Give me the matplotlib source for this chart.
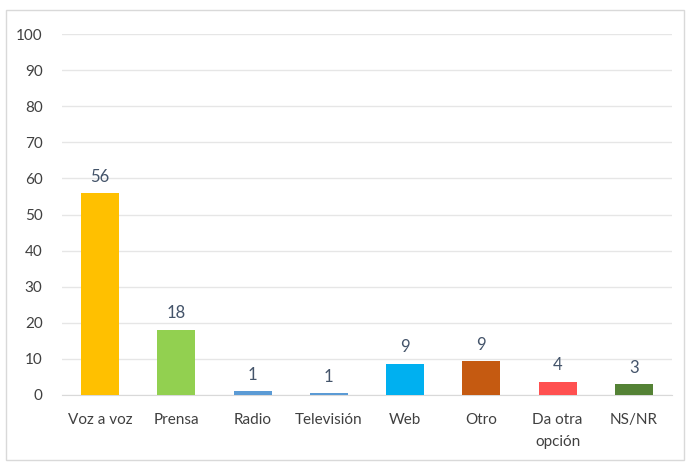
import matplotlib
matplotlib.use("Agg")
import matplotlib.pyplot as plt
from matplotlib.patches import Rectangle

categories = ["Voz a voz", "Prensa", "Radio", "Televisión", "Web", "Otro", "Da otra\nopción", "NS/NR"]
values = [56, 18.1, 1.1, 0.6, 8.7, 9.3, 3.7, 3.0]
labels = ["56", "18", "1", "1", "9", "9", "4", "3"]
colors = ["#FFC000", "#92D050", "#5B9BD5", "#5B9BD5", "#00B0F0", "#C55A11", "#FF5050", "#548235"]
yticks = list(range(0, 101, 10))

plt.rcParams['font.family'] = ['Lato', 'DejaVu Sans']

fig = plt.figure(figsize=(6.9, 4.62), dpi=100)
ax = fig.add_axes([62/690, 1-395/462, 610/690, 361/462])

x = range(len(categories))
bars = ax.bar(x, values, width=0.5, color=colors, zorder=3)
for b, lab in zip(bars, labels):
    ax.annotate(lab, (b.get_x()+b.get_width()/2, b.get_height()), xytext=(0, 6),
                textcoords="offset points", ha="center", va="bottom",
                fontsize=12, color="#44546A")

ax.set_ylim(0, 100)
ax.set_xlim(-0.5, len(categories)-0.5)
ax.set_yticks(yticks)
ax.set_xticks(list(x))
ax.set_xticklabels(categories, fontsize=11, color="#404040", linespacing=1.75)
ax.tick_params(axis='y', labelsize=11, labelcolor="#404040", length=0, pad=14)
ax.tick_params(axis='x', length=0, pad=13)
ax.yaxis.grid(True, color="#E6E6E6", linewidth=1, zorder=0)
for s in ["top", "right", "left"]:
    ax.spines[s].set_visible(False)
ax.spines["bottom"].set_color("#D9D9D9")

fig.patches.append(Rectangle((6/690, 1-460/462), 678/690, 450/462, transform=fig.transFigure,
                             fill=False, edgecolor="#D9D9D9", linewidth=1))

fig.savefig("out.png", dpi=100)
